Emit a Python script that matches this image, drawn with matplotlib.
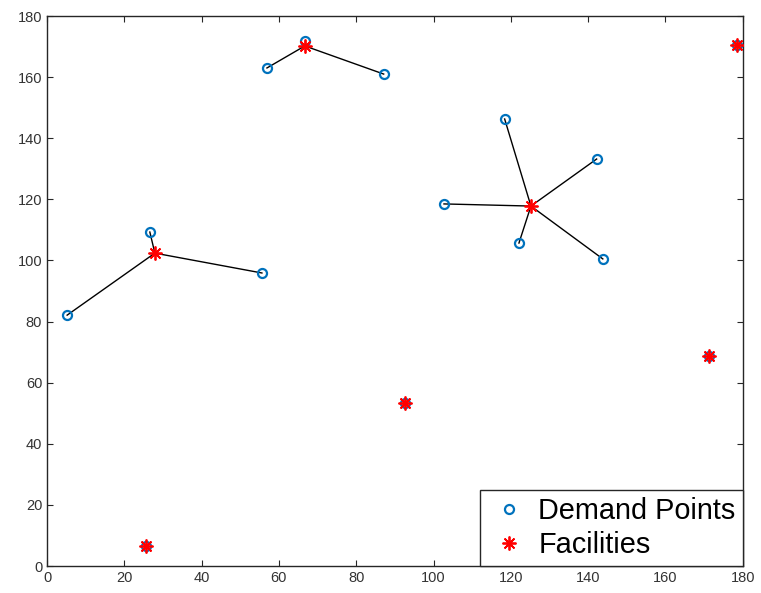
import matplotlib
matplotlib.use("Agg")
import matplotlib.pyplot as plt

plt.rcParams["font.family"] = ["Liberation Sans", "DejaVu Sans"]

# Facility locations
fac_x = [27.9, 66.7, 125.2, 92.6, 171.2, 25.6, 178.4]
fac_y = [102.4, 170.2, 117.8, 53.3, 68.7, 6.5, 170.5]

# Demand points and the facility each one is assigned to
dem_x = [5.2, 26.6, 55.6, 56.9, 66.7, 87.1, 118.4, 142.2, 102.7, 122.1, 143.8, 92.6, 171.2, 25.6, 178.4]
dem_y = [82.1, 109.3, 95.9, 163.0, 171.8, 161.0, 146.3, 133.2, 118.5, 105.7, 100.5, 53.3, 68.7, 6.5, 170.5]
assign = [0, 0, 0, 1, 1, 1, 2, 2, 2, 2, 2, 3, 4, 5, 6]

fig = plt.figure(figsize=(7.61, 5.93), dpi=100)
ax = fig.add_axes([0.0618, 0.0455, 0.9142, 0.9275])

# Links from demand points to facilities
for x, y, f in zip(dem_x, dem_y, assign):
    ax.plot([x, fac_x[f]], [y, fac_y[f]], color="black", lw=1.0, zorder=1)

ax.plot(dem_x, dem_y, "o", ms=6.5, mfc="none", mec="#0072BD", mew=1.6,
        ls="none", zorder=2, label="Demand Points")
ax.plot(fac_x, fac_y, marker=(8, 2, 0), ms=10, mec="red", mfc="red", mew=1.3,
        ls="none", zorder=3, label="Facilities")

ax.set_xlim(0, 180)
ax.set_ylim(0, 180)
ax.set_xticks(range(0, 181, 20))
ax.set_yticks(range(0, 181, 20))
ax.tick_params(direction="in", top=True, right=True, length=4, width=0.8,
               labelsize=10.5, labelcolor="#333333", color="#262626")
for s in ax.spines.values():
    s.set_color("#262626")
    s.set_linewidth(1.0)

leg = ax.legend(loc="lower right", borderaxespad=0, fancybox=False,
                edgecolor="#262626", framealpha=1, fontsize=20.8,
                handlelength=1.5, handletextpad=0.25, borderpad=0.25,
                labelspacing=0.2)
leg.get_frame().set_linewidth(1.0)

fig.savefig("out.png", dpi=100)
